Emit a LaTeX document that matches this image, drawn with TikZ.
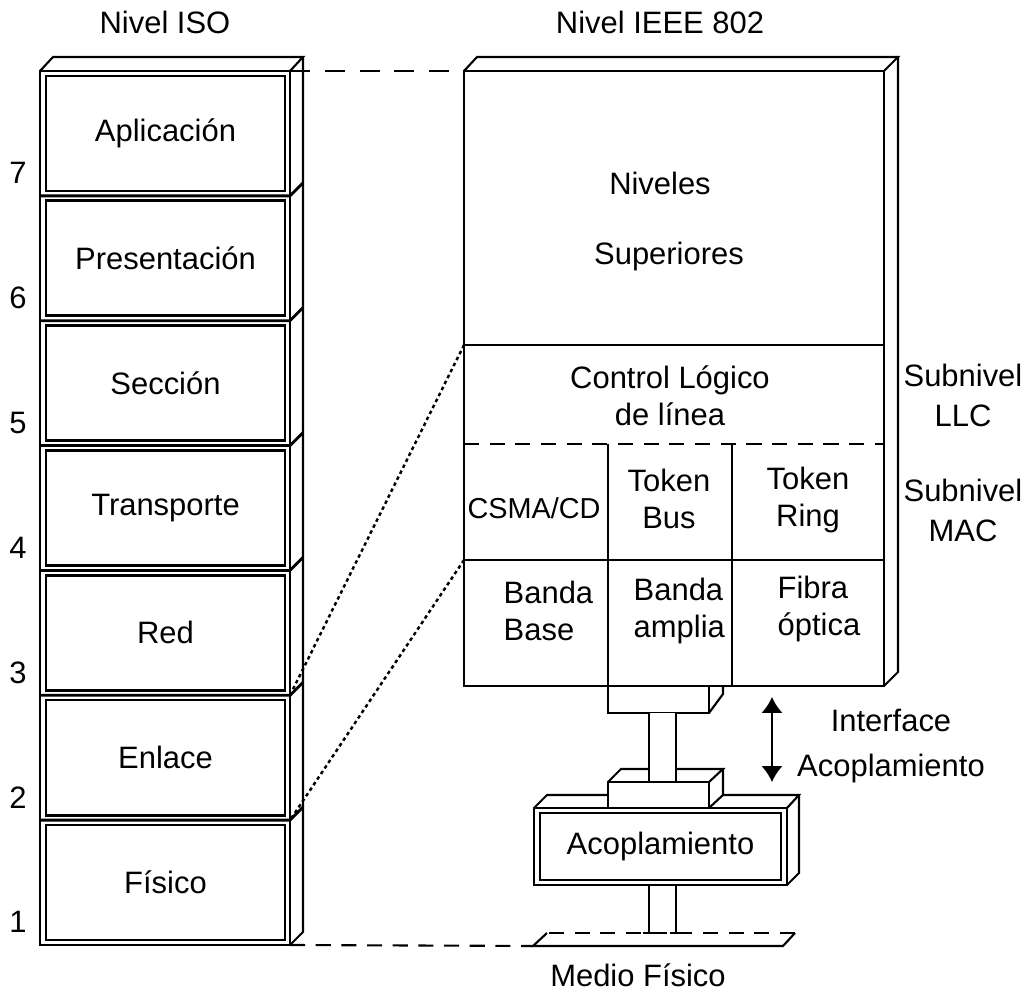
\documentclass[tikz,border=0pt]{standalone}
\usepackage{fontspec}
\setmainfont{Liberation Sans}
\usetikzlibrary{arrows.meta,positioning}

\begin{document}
\begin{tikzpicture}[x=0.01cm,y=-0.01cm,
  font=\fontsize{8.8}{10.4}\selectfont,
  linea/.style={line width=0.6pt},
  marco/.style={line width=0.8pt},
  capa/.style={draw,line width=0.75pt,minimum width=2.39cm,minimum height=1.15cm,inner sep=0pt},
  guion/.style={line width=0.6pt,dash pattern=on 4.3pt off 3pt},
  guionlargo/.style={line width=0.6pt,dash pattern=on 5.7pt off 4.2pt},
  punteado/.style={line width=0.7pt,dash pattern=on 1pt off 0.9pt},
  texto/.style={align=center,inner sep=0pt}]
\useasboundingbox (0,0) rectangle (1029,994);

% titulos
\node[texto] (tiso) at (165,22) {Nivel ISO};
\node[texto] (tieee) at (660,22) {Nivel IEEE 802};

% pila ISO
\draw[marco] (40,71) rectangle (290,945);
\draw[linea] (40,71) -- (53,57) -- (303,57) -- (290,71);
\draw[linea] (303,57) -- (303,932) -- (290,945);
\foreach \nombre/\etiqueta/\num [count=\i from 0] in {apl/Aplicación/7, pre/Presentación/6, sec/Sección/5, tra/Transporte/4, red/Red/3, enl/Enlace/2, fis/Físico/1}{
  \node[capa] (\nombre) at (165.5,{133.4+124.86*\i}) {\etiqueta};
  \node[texto] (n\num) at (18,{173+124.86*\i}) {\num};
}
\foreach \i in {1,...,6}
  \draw[marco] (40,{71+124.86*\i}) -- (290,{71+124.86*\i}) -- (303,{58+124.86*\i});
\coordinate (enl-sup) at (290,695.3);
\coordinate (enl-inf) at (290,820.2);

% nivel IEEE 802
\draw[marco] (464,71) rectangle (884,686);
\draw[linea] (464,71) -- (477,57) -- (898,57) -- (884,71);
\draw[linea] (898,57) -- (898,672) -- (884,686);
\draw[linea] (464,345) -- (884,345);
\draw[guion] (464,444) -- (884,444);
\draw[linea] (464,560) -- (884,560);
\draw[linea] (608,444) -- (608,686) (732,444) -- (732,686);
\coordinate (llc-sup) at (464,345);
\coordinate (mac-inf) at (464,560);

\node[texto] (niv) at (660,183) {Niveles};
\node[texto] (sup) at (669,257) {Superiores};
\node[texto] (llc) at (670,396) {Control Lógico\\de línea};
\node[texto,font=\fontsize{8.2}{10}\selectfont] (csma) at (534,508) {CSMA/CD};
\node[texto] (tbus) at (669,499) {Token\\Bus};
\node[texto] (tring) at (808,500) {Token\\Ring};
\node[texto,align=left,anchor=west] (bbase) at (503,611) {Banda\\Base};
\node[texto,align=left,anchor=west] (bamp) at (633,611) {Banda\\amplia};
\node[texto,align=left,anchor=west] (fibra) at (777,609) {Fibra\\óptica};

\node[texto] (sllc) at (963,395) {Subnivel\\[1pt]LLC};
\node[texto] (smac) at (963,510) {Subnivel\\[1pt]MAC};

% lineas de correspondencia
\draw[guionlargo] (290,71) -- (464,71);
\draw[punteado] (llc-sup) -- (enl-sup);
\draw[punteado] (mac-inf) -- (enl-inf);

% conector superior y cable
\draw[linea] (608,686) -- (608,713) -- (709,713) -- (709,686);
\draw[linea] (723,686) -- (723,694) -- (709,713);
\draw[linea] (608,782) -- (621,769) -- (723,769) -- (709,782);
\fill[white] (649,713) rectangle (676,782);
\draw[linea] (649,713) -- (649,782) (676,713) -- (676,782);
\draw[linea] (608,782) rectangle (709,808);
\draw[linea] (723,769) -- (723,795) -- (709,808);

% acoplamiento
\draw[marco] (534,808) rectangle (787,885);
\draw[linea] (534,808) -- (547,795) -- (608,795);
\draw[linea] (723,795) -- (799,795) -- (787,808);
\draw[linea] (799,795) -- (799,873) -- (787,885);
\node[capa,minimum width=2.41cm,minimum height=0.67cm] (acop) at (660.5,846.5) {Acoplamiento};

% interface
\coordinate (int-a) at (772,697);
\coordinate (int-b) at (772,782);
\draw[linea,{Latex[width=6pt,length=4.5pt]}-{Latex[width=6pt,length=4.5pt]}] (int-a) -- (int-b);
\node[texto] (intf) at (891,746) {Interface\\[2.5pt]Acoplamiento};

% medio fisico
\draw[linea] (649,885) -- (649,933) (676,885) -- (676,933);
\draw[linea] (643,933) -- (655,933) (670,933) -- (682,933);
\draw[guion] (290,945) -- (533,946);
\draw[linea] (547,933) -- (533,946) -- (783,946) -- (795,933);
\draw[guion] (795,933) -- (547,933);
\node[texto] (medio) at (638,975) {Medio Físico};
\end{tikzpicture}
\end{document}
